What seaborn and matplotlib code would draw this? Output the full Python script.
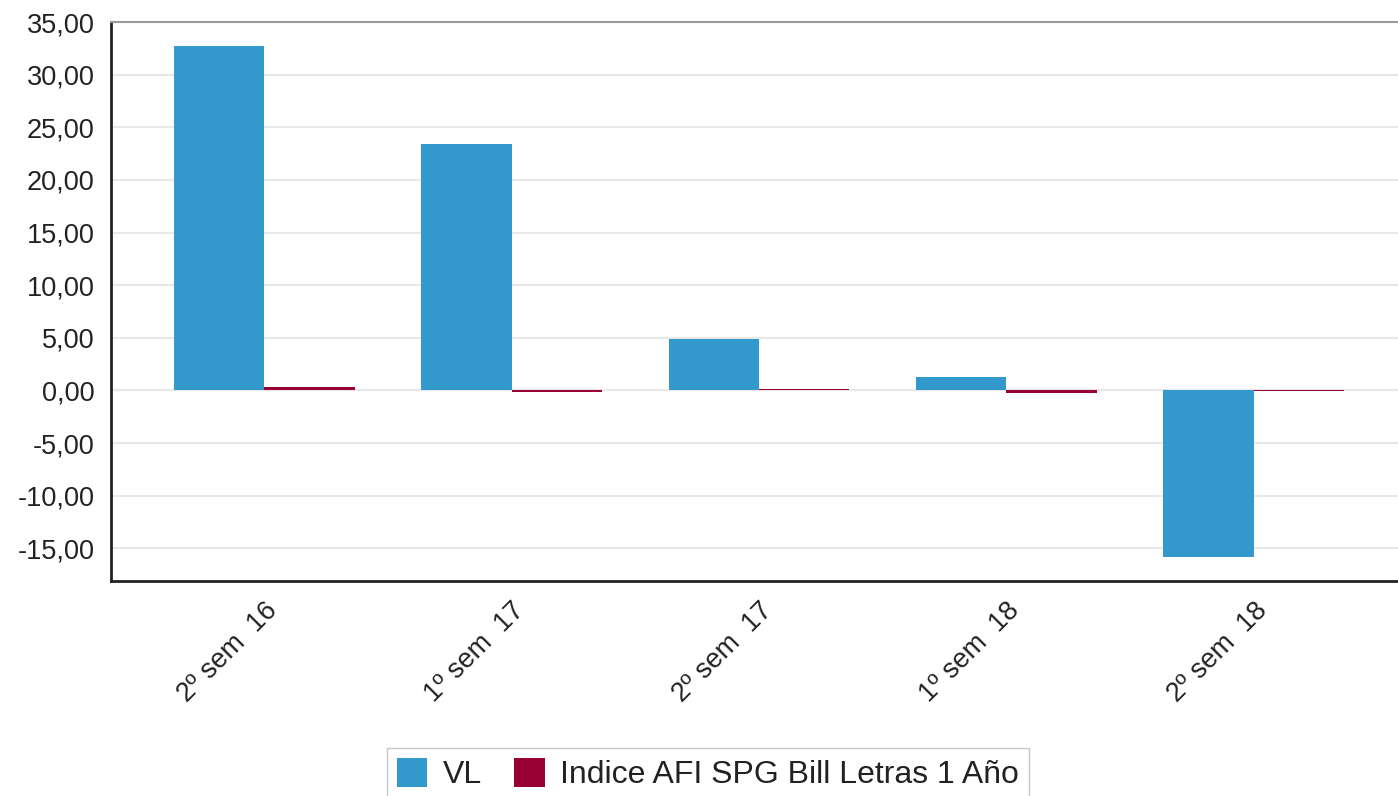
import pandas as pd
import matplotlib
matplotlib.use("Agg")
import matplotlib.pyplot as plt
import seaborn as sns

# data
periods = ["2º sem  16", "1º sem  17", "2º sem  17", "1º sem  18", "2º sem  18"]
vl = [32.70, 23.45, 4.90, 1.30, -15.78]
indice = [0.35, -0.15, 0.12, -0.25, -0.03]
series_names = ["VL", "Indice AFI SPG Bill Letras 1 Año"]
colors = ["#3399CC", "#990033"]

df = pd.DataFrame({
    "Periodo": periods * 2,
    "Serie": [series_names[0]] * len(periods) + [series_names[1]] * len(periods),
    "Valor": vl + indice,
})

sns.set_theme(style="white")
plt.rcParams["font.family"] = ["Liberation Sans", "DejaVu Sans"]

fig = plt.figure(figsize=(13.98, 7.96), dpi=100)
ax = fig.add_axes([111 / 1398, 1 - 581 / 796, 1 - 111 / 1398 + 0.01, (581 - 22) / 796])

sns.barplot(data=df, x="Periodo", y="Valor", hue="Serie", order=periods,
            hue_order=series_names, palette=colors, width=0.73, gap=0.0,
            linewidth=0, saturation=1, ax=ax, legend=True)

ax.set_ylim(-18.1, 35)
ax.set_xlim(-0.62, 4.64)
ax.set_yticks(range(-15, 36, 5))
ax.set_yticklabels([f"{v:.2f}".replace(".", ",") for v in range(-15, 36, 5)])
ax.yaxis.grid(True, color="#e8e8e8", linewidth=1.5)
ax.axhline(0, color="#cccccc", linewidth=1.5, zorder=0.5)
ax.set_axisbelow(True)
ax.set_xlabel("")
ax.set_ylabel("")

for side in ["left", "bottom"]:
    ax.spines[side].set_color("#222222")
    ax.spines[side].set_linewidth(2)
ax.spines["top"].set_color("#999999")
ax.spines["top"].set_linewidth(1.5)
ax.spines["right"].set_visible(False)

ax.tick_params(axis="both", length=0, labelsize=19.5, colors="#222222")
ax.tick_params(axis="y", pad=12)
ax.tick_params(axis="x", pad=12)
for lbl in ax.get_xticklabels():
    lbl.set_rotation(45)
    lbl.set_ha("right")
    lbl.set_rotation_mode("anchor")

ax.get_legend().remove()
handles, labels = ax.get_legend_handles_labels()
fig.legend(handles[:2], labels[:2], loc="upper center", bbox_to_anchor=(708 / 1398, 1 - 748 / 796),
           ncol=2, frameon=True, fancybox=False, edgecolor="#bbbbbb", fontsize=23,
           handlelength=0.95, handleheight=1.05, handletextpad=0.5, columnspacing=1.0,
           borderpad=0.3, borderaxespad=0, labelcolor="#222222")

fig.savefig("out.png", dpi=100)
